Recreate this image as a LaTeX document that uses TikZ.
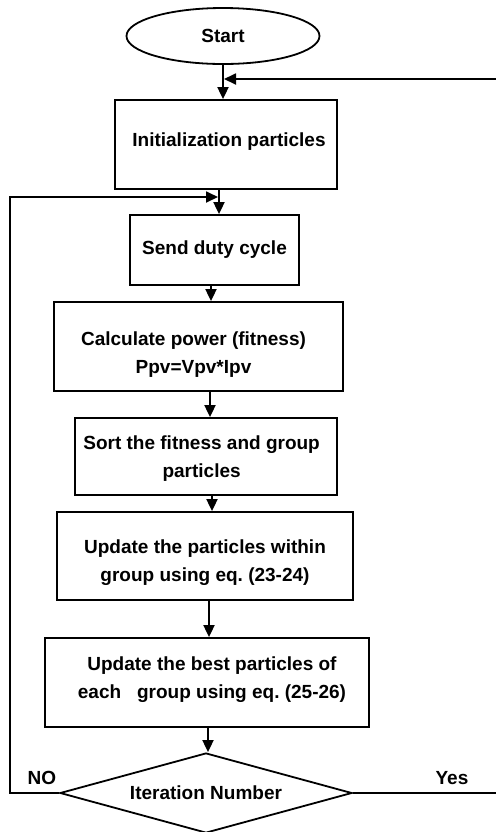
\documentclass[tikz,border=0pt]{standalone}
\usepackage{fontspec}
\setmainfont{Liberation Sans}
\usetikzlibrary{arrows.meta,shapes.geometric,positioning}
\frenchspacing

\begin{document}
\begin{tikzpicture}[
  x=0.5pt, y=-0.5pt,
  font=\fontsize{9.5}{14}\selectfont\bfseries,
  blk/.style={draw, line width=0.9pt, align=center, inner sep=2pt},
  txt/.style={align=center, inner sep=0pt},
  arr/.style={-{Triangle[length=6pt,width=5.5pt]}, line width=0.9pt}]
\useasboundingbox (0,0) rectangle (495,832);
\node[blk, ellipse, minimum width=96.5pt, minimum height=28pt] (start) at (223,36) {Start};
\node[blk, minimum width=111pt, minimum height=44.5pt, text height=7pt, text depth=5pt] (init) at (226,144.5) {\hspace*{3pt}Initialization particles};
\node[blk, minimum width=84.5pt, minimum height=35pt] (send) at (214.5,250) {Send duty cycle};
\node[blk, minimum width=144.5pt, minimum height=44.5pt,
  label={[txt, xshift=-2.5pt, yshift=-4pt]center:{Calculate power (fitness)\\Ppv=Vpv*Ipv}}] (calc) at (198.5,346.5) {};
\node[blk, minimum width=131pt, minimum height=38.5pt,
  label={[txt, xshift=-2.2pt, yshift=-1.2pt]center:{Sort the fitness and group\\particles}}] (sort) at (206,456.5) {};
\node[blk, minimum width=148pt, minimum height=44pt,
  label={[txt, yshift=-3.5pt]center:{Update the particles within\\group using eq. (23-24)}}] (upd1) at (205,556) {};
\node[blk, minimum width=162pt, minimum height=44.5pt,
  label={[txt, xshift=2.5pt, yshift=1.2pt]center:{Update the best particles of\\each~~~group using eq. (25-26)}}] (upd2) at (207,682.5) {};
\node[blk, diamond, shape aspect=3.6, inner sep=0pt, minimum width=146pt, minimum height=40pt] (iter) at (206,793) {Iteration Number};
\node (no) at (42,778) {NO};
\node (yes) at (452,778) {Yes};
% loop ends
\coordinate (nobend) at (10,197);
\coordinate (notip) at (218,197);
\coordinate (yesbend) at (498,79);
\coordinate (yestip) at (224,79);
\foreach \a/\b/\x in {start/init/223, init/send/219, send/calc/211, calc/sort/210,
  sort/upd1/212, upd1/upd2/209, upd2/iter/208}
  \draw[arr] (\x,0 |- \a.south) -- (\x,0 |- \b.north);
\draw[arr] (iter.west) -| (nobend) -- (notip);
\draw[arr] (iter.east) -| (yesbend) -- (yestip);
\end{tikzpicture}
\end{document}
